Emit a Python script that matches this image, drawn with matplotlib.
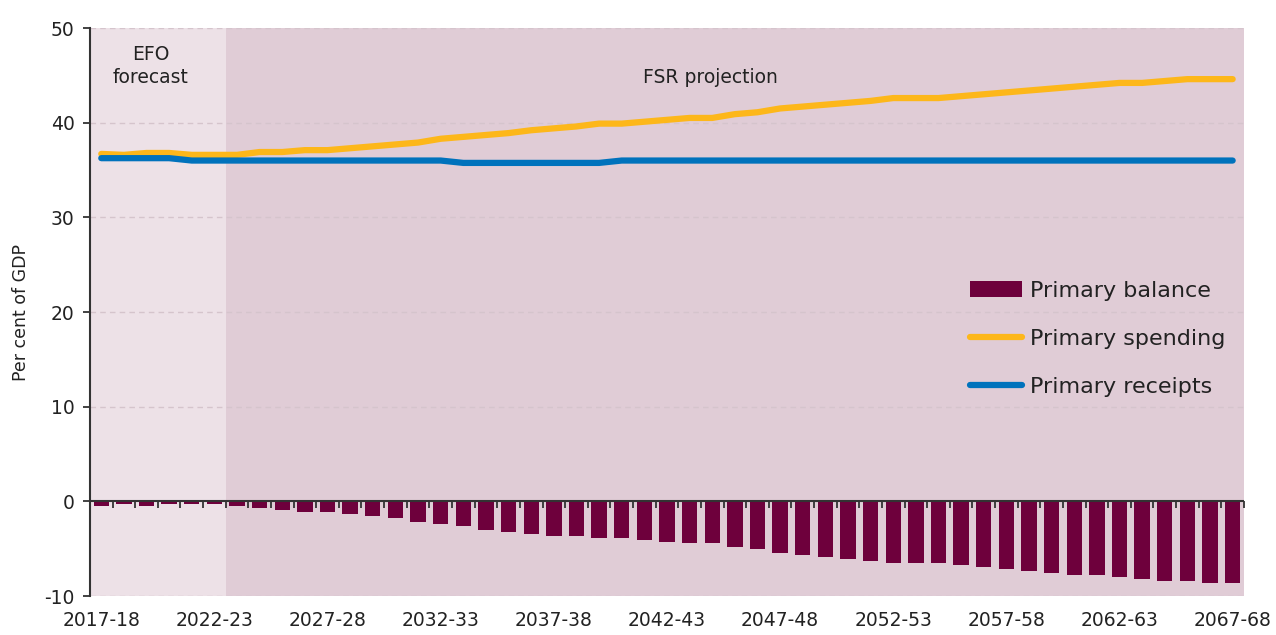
import numpy as np
import matplotlib
matplotlib.use("Agg")
import matplotlib.pyplot as plt

plt.rcParams['font.family'] = ['DejaVu Sans']
plt.rcParams['axes.unicode_minus'] = False

years = ["2017-18", "2018-19", "2019-20", "2020-21", "2021-22", "2022-23", "2023-24",
         "2024-25", "2025-26", "2026-27", "2027-28", "2028-29", "2029-30", "2030-31",
         "2031-32", "2032-33", "2033-34", "2034-35", "2035-36", "2036-37", "2037-38",
         "2038-39", "2039-40", "2040-41", "2041-42", "2042-43", "2043-44", "2044-45",
         "2045-46", "2046-47", "2047-48", "2048-49", "2049-50", "2050-51", "2051-52",
         "2052-53", "2053-54", "2054-55", "2055-56", "2056-57", "2057-58", "2058-59",
         "2059-60", "2060-61", "2061-62", "2062-63", "2063-64", "2064-65", "2065-66",
         "2066-67", "2067-68"]

primary_balance = [-0.5, -0.3, -0.5, -0.3, -0.3, -0.3, -0.5, -0.7, -0.9, -1.1,
                   -1.1, -1.35, -1.55, -1.75, -2.2, -2.4, -2.6, -3.0, -3.2, -3.45,
                   -3.65, -3.65, -3.85, -3.85, -4.05, -4.25, -4.45, -4.45, -4.85, -5.05,
                   -5.5, -5.7, -5.9, -6.1, -6.3, -6.55, -6.55, -6.55, -6.75, -6.95,
                   -7.15, -7.35, -7.55, -7.8, -7.8, -8.0, -8.2, -8.4, -8.4, -8.6, -8.6]

primary_spending = [36.7, 36.6, 36.8, 36.8, 36.6, 36.6, 36.6, 36.9, 36.9, 37.1,
                    37.1, 37.3, 37.5, 37.7, 37.9, 38.3, 38.5, 38.7, 38.9, 39.2,
                    39.4, 39.6, 39.9, 39.9, 40.1, 40.3, 40.5, 40.5, 40.9, 41.1,
                    41.5, 41.7, 41.9, 42.1, 42.3, 42.6, 42.6, 42.6, 42.8, 43.0,
                    43.2, 43.4, 43.6, 43.8, 44.0, 44.2, 44.2, 44.4, 44.6, 44.6, 44.6]

primary_receipts = [36.25, 36.25, 36.25, 36.25, 36.0, 36.0, 36.0, 36.0, 36.0, 36.0,
                    36.0, 36.0, 36.0, 36.0, 36.0, 36.0, 35.75, 35.75, 35.75, 35.75,
                    35.75, 35.75, 35.75, 36.0, 36.0, 36.0, 36.0, 36.0, 36.0, 36.0,
                    36.0, 36.0, 36.0, 36.0, 36.0, 36.0, 36.0, 36.0, 36.0, 36.0,
                    36.0, 36.0, 36.0, 36.0, 36.0, 36.0, 36.0, 36.0, 36.0, 36.0, 36.0]

label_years = years[::5]
y_ticks = [-10, 0, 10, 20, 30, 40, 50]
n_forecast = 6

x = np.arange(len(years))

fig = plt.figure(figsize=(12.76, 6.35), dpi=100)
ax = fig.add_axes([0.0705, 0.0614, 0.9044, 0.8945])

ax.set_xlim(-0.5, len(years) - 0.5)
ax.set_ylim(-10, 50)

ax.axvspan(-0.5, n_forecast - 0.5, color='#EDE1E7', zorder=0, lw=0)
ax.axvspan(n_forecast - 0.5, len(years) - 0.5, color='#E0CCD6', zorder=0, lw=0)

for yv in y_ticks:
    if yv != 0:
        ax.axhline(yv, color='#D5C4CC', lw=1.0, ls=(0, (4, 3)), zorder=1)

bars = ax.bar(x, primary_balance, width=0.68, color='#6E003C', zorder=2,
              label='Primary balance')
ls, = ax.plot(x, primary_spending, color='#FDB71A', lw=4.5, zorder=3,
              solid_capstyle='round', solid_joinstyle='round', label='Primary spending')
lr, = ax.plot(x, primary_receipts, color='#0072BC', lw=4.5, zorder=3,
              solid_capstyle='round', solid_joinstyle='round', label='Primary receipts')

ax.axhline(0, color='#333333', lw=1.5, zorder=4)

# x tick labels at bottom, no tick marks
ax.set_xticks(x[::5])
ax.set_xticklabels(label_years)
ax.tick_params(axis='x', length=0, pad=11, labelsize=13.5, labelcolor='#222222')

# ticks on zero line between categories
sec = ax.secondary_xaxis(10 / 60)
sec.set_xticks(np.arange(len(years) + 1) - 0.5)
sec.set_xticklabels([])
sec.tick_params(axis='x', direction='out', length=5, width=1.3, color='#333333')
sec.spines['bottom'].set_visible(False)

ax.set_yticks(y_ticks)
ax.tick_params(axis='y', direction='out', length=5, width=1.3, color='#333333',
               labelsize=13.5, labelcolor='#222222', pad=6)
ax.set_ylabel('Per cent of GDP', fontsize=12.5, color='#222222', labelpad=10)

for s in ['top', 'right', 'bottom']:
    ax.spines[s].set_visible(False)
ax.spines['left'].set_color('#333333')
ax.spines['left'].set_linewidth(1.5)

ax.text(2.2, 46.0, 'EFO\nforecast', ha='center', va='center', fontsize=13.5,
        color='#222222', linespacing=1.3)
ax.text(26.9, 44.8, 'FSR projection', ha='center', va='center', fontsize=13.5,
        color='#222222')

leg = ax.legend(handles=[bars, ls, lr], loc='upper left',
                bbox_to_anchor=(0.745, 0.59), frameon=False, fontsize=16,
                handlelength=2.35, handletextpad=0.36, labelspacing=1.26,
                labelcolor='#222222')

fig.savefig('out.png', dpi=100)
